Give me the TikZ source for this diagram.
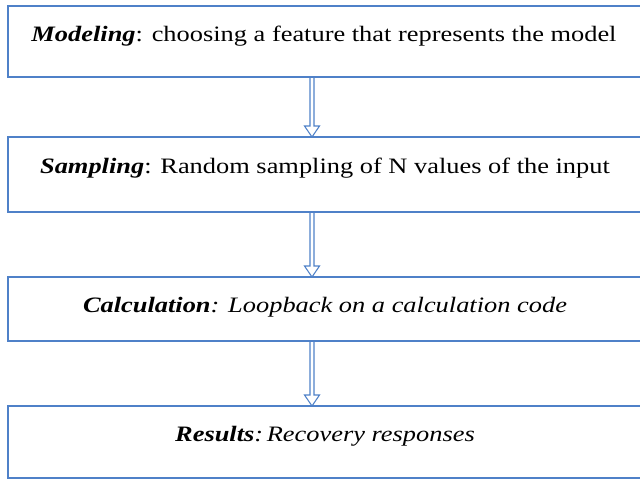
\documentclass[tikz,border=0pt]{standalone}
\usepackage{fontspec}
\setmainfont{Liberation Serif}[FakeStretch=1.2]
\usetikzlibrary{positioning, calc}
\definecolor{boxblue}{RGB}{79,129,200}

\begin{document}
\begin{tikzpicture}[x=0.75pt, y=-0.75pt,
    box/.style={draw=boxblue, line width=1pt, rectangle, minimum width=500pt, inner sep=0pt, outer sep=0pt},
    lbl/.style={anchor=base, inner sep=0pt, font=\fontsize{16.5}{20}\selectfont},
    flowline/.style={draw=boxblue, line width=0.8pt, line join=miter}]
  \useasboundingbox (0,0) rectangle (640,479);
  \clip (0,0) rectangle (640,479);
  \coordinate (axis) at (312,0);
  \node[box, anchor=north west, minimum height=53.25pt] (model) at (8,6) {};
  \node[box, below=45pt of model, minimum height=56.25pt] (sample) {};
  \node[box, below=48.75pt of sample, minimum height=48pt] (calc) {};
  \node[box, below=48.75pt of calc, minimum height=54pt] (result) {};
  \node[lbl] (tmodel) at ($(model.north west)+(316,35)$) {\textbf{\textit{Modeling}}: choosing a feature that represents the model};
  \node[lbl] (tsample) at ($(sample.north west)+(317,36)$) {\textbf{\textit{Sampling}}: Random sampling of N values of the input};
  \node[lbl] (tcalc) at ($(calc.north west)+(317,35)$) {\textit{\textbf{Calculation}: Loopback on a calculation code}};
  \node[lbl] (tresult) at ($(result.north west)+(317,35)$) {\textit{\textbf{Results}:\,Recovery responses}};
  \foreach \a/\b in {model/sample, sample/calc, calc/result}
    \draw[flowline] ($(\a.south -| axis)+(-2,0)$) -- ($(\b.north -| axis)+(-2,-11)$) -- ++(-5.5,0)
      -- (\b.north -| axis) -- ++(7.5,-11) -- ++(-5.5,0) -- ($(\a.south -| axis)+(2,0)$);
\end{tikzpicture}
\end{document}
